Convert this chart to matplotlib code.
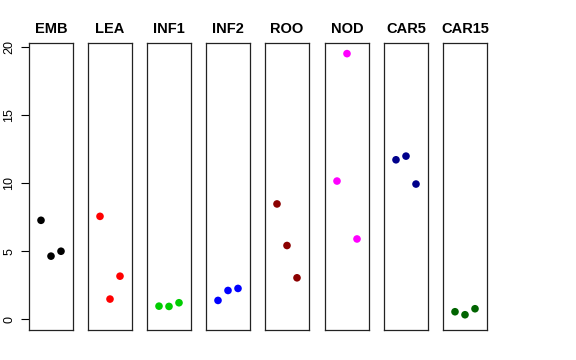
import matplotlib
matplotlib.use("Agg")
import matplotlib.pyplot as plt

plt.rcParams["font.family"] = ["Liberation Sans", "DejaVu Sans"]

categories = ["EMB", "LEA", "INF1", "INF2", "ROO", "NOD", "CAR5", "CAR15"]
values = [
    [7.27, 4.64, 5.0],
    [7.56, 1.49, 3.17],
    [0.97, 0.95, 1.22],
    [1.39, 2.12, 2.27],
    [8.47, 5.42, 3.05],
    [10.15, 19.5, 5.9],
    [11.71, 11.98, 9.93],
    [0.56, 0.34, 0.78],
]
colors = ["#000000", "#FF0000", "#00CD00", "#0000FF", "#8B0000", "#FF00FF", "#00008B", "#006400"]
yticks = [0, 5, 10, 15, 20]

W, H = 576, 360
fig = plt.figure(figsize=(W / 100, H / 100), dpi=100)
lefts = [29, 88, 147, 206, 265, 325, 384, 443]
pw = 44
top, bottom = 43, 330
ymax = max(max(v) for v in values)
ylo, yhi = 0 - 0.04 * ymax, ymax + 0.04 * ymax

for i, (cat, vals, col) in enumerate(zip(categories, values, colors)):
    ax = fig.add_axes([lefts[i] / W, 1 - bottom / H, pw / W, (bottom - top) / H])
    ax.scatter([1, 2, 3], vals, s=30, color=col, edgecolors="none", zorder=3)
    ax.set_xlim(-0.2, 4.2)
    ax.set_ylim(ylo, yhi)
    ax.set_xticks([])
    ax.set_title(cat, fontsize=10.5, fontweight="bold", pad=7)
    for s in ax.spines.values():
        s.set_linewidth(0.9)
        s.set_color("#222222")
    if i == 0:
        ax.set_yticks(yticks)
        ax.set_yticklabels([str(t) for t in yticks], fontsize=9)
        ax.tick_params(axis="y", length=6, width=0.8, pad=4, labelrotation=90)
        for lab in ax.get_yticklabels():
            lab.set_verticalalignment("center")
    else:
        ax.set_yticks([])

fig.savefig("out.png", dpi=100, facecolor="white")
